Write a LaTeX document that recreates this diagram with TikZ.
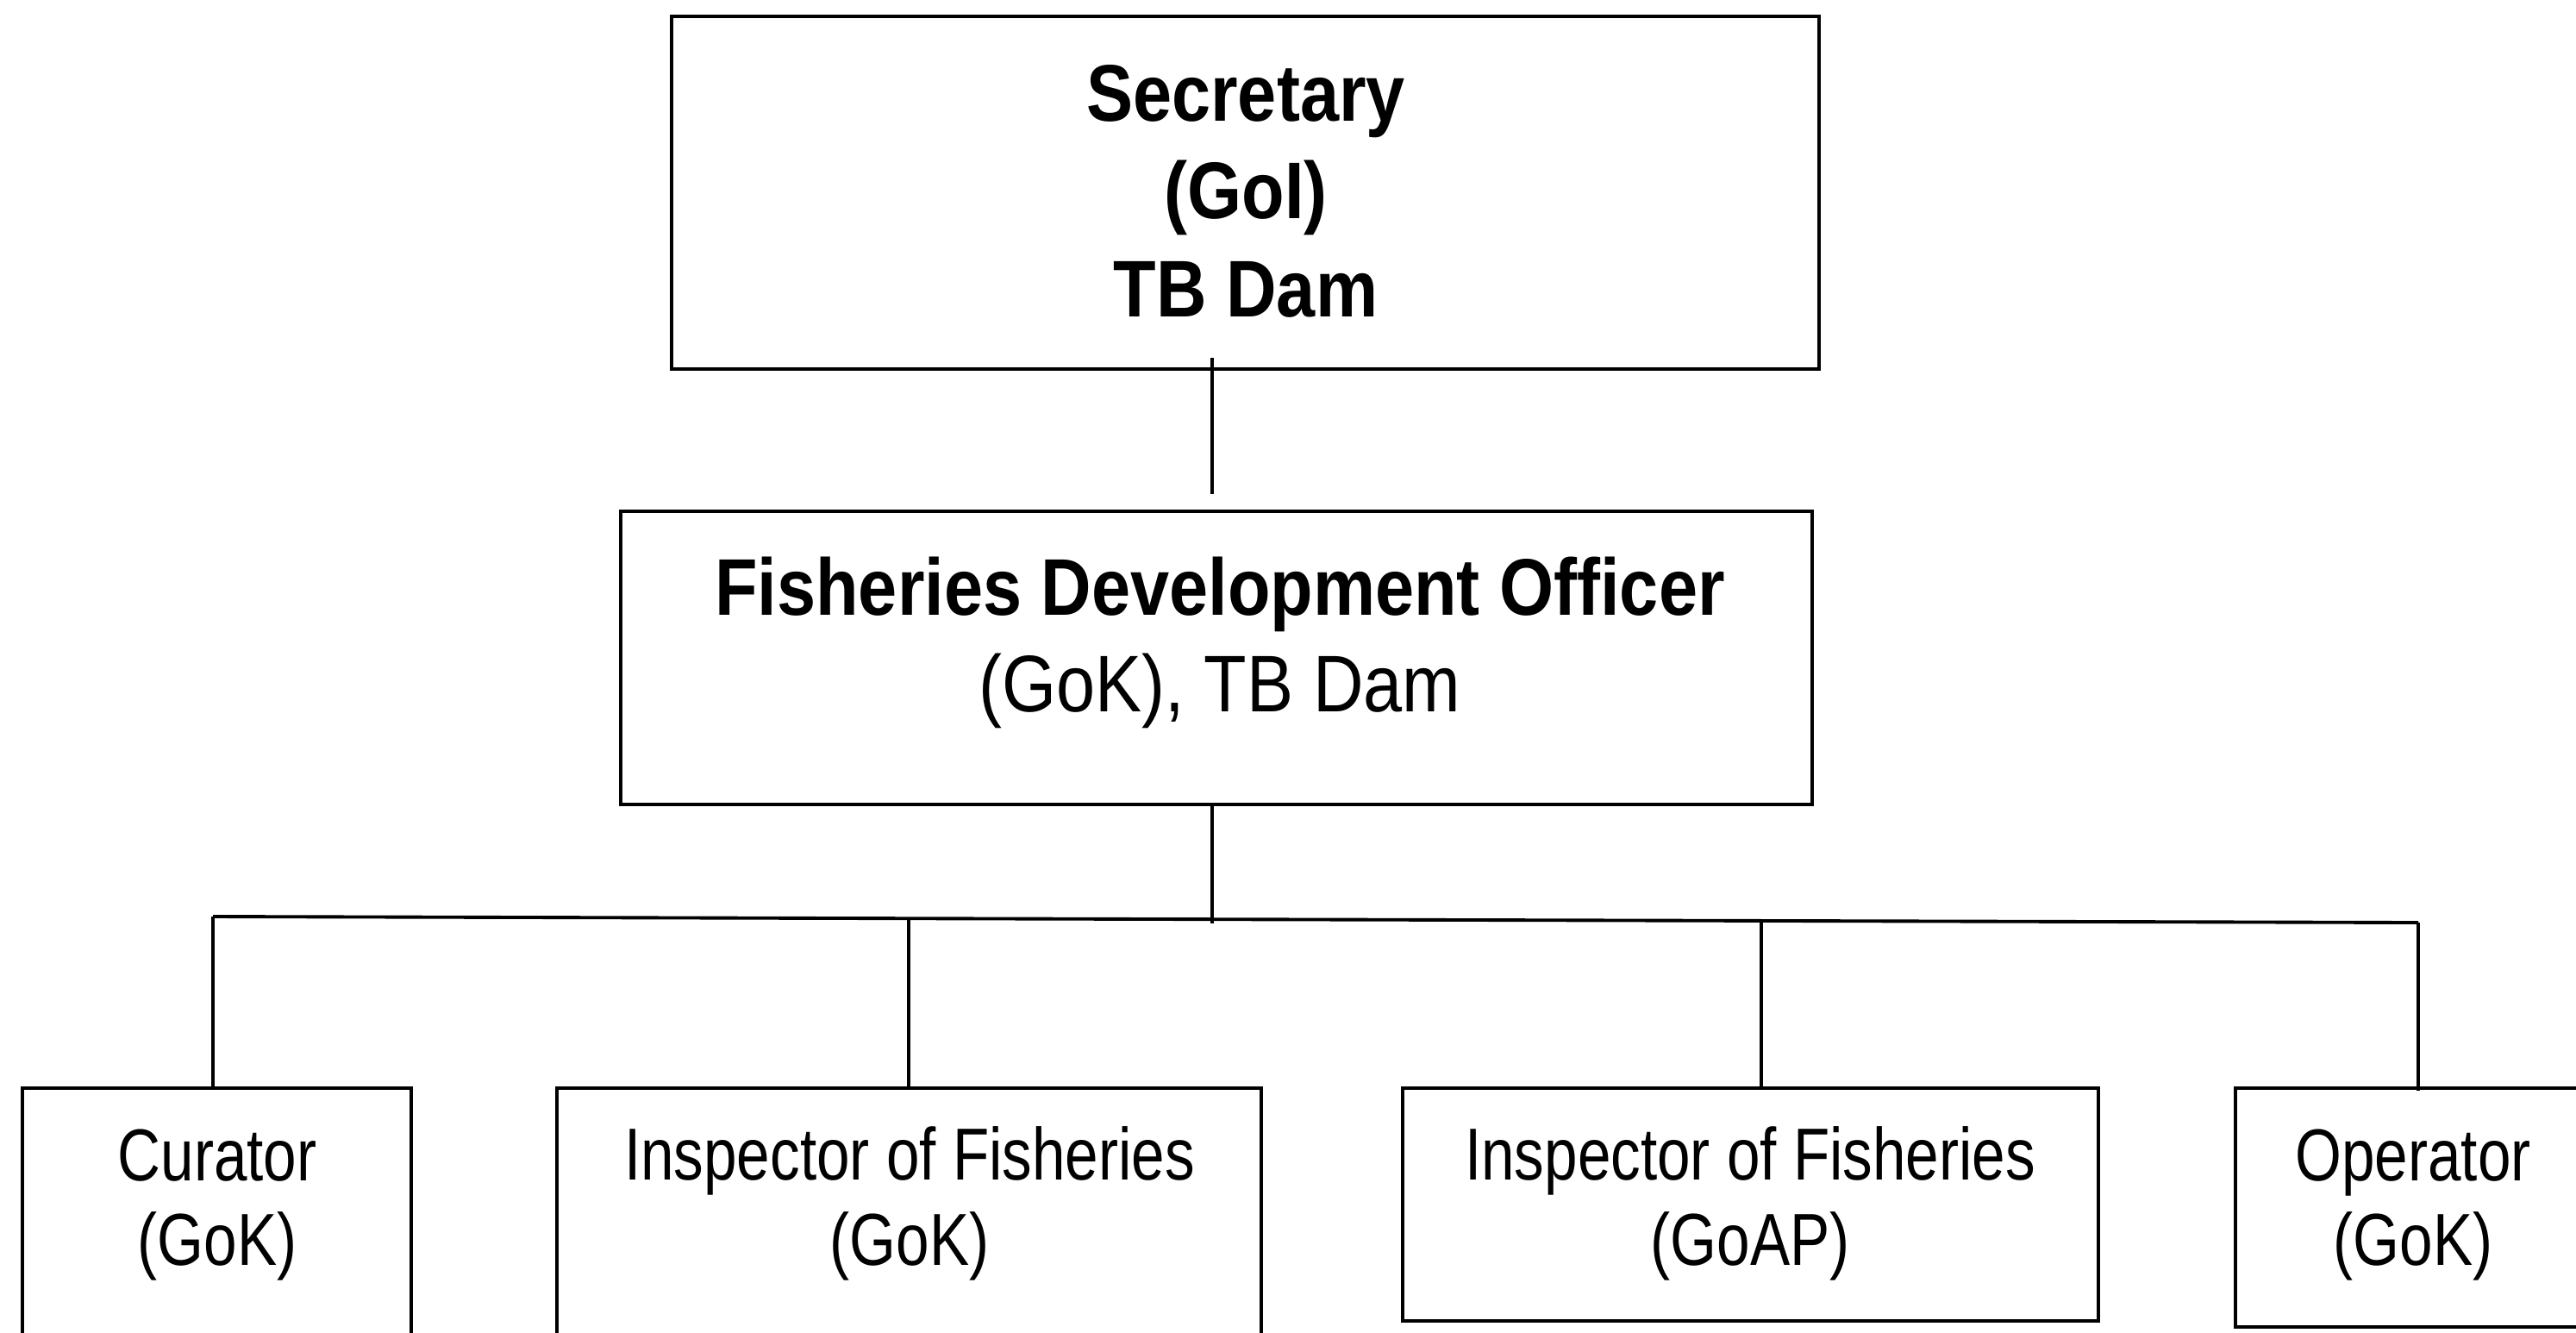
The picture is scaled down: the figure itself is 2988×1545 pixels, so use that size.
\documentclass[tikz,border=0pt]{standalone}
\usepackage{fontspec}
\setmainfont{Liberation Sans}
\usepackage{graphicx}
\newcommand\txtb[1]{\scalebox{0.87}[1]{\bfseries #1}}
\newcommand\txtm[1]{\scalebox{0.87}[1]{#1}}
\newcommand\txtr[1]{\scalebox{0.81}[1]{#1}}
\begin{document}
\begin{tikzpicture}[x=0.01cm, y=-0.01cm,
  box/.style={draw, line width=1.1pt, rectangle, inner sep=0pt},
  conn/.style={draw, line width=1.1pt},
  tt/.style={anchor=base, inner sep=0pt, font=\fontsize{26.5}{30}\selectfont},
  tn/.style={anchor=base, inner sep=0pt, font=\fontsize{24.3}{28}\selectfont}]
\useasboundingbox[fill=white] (0,0) rectangle (2988,1545);

% boxes
\node[box, minimum width=13.31cm, minimum height=4.09cm] (sec) at (1444.5,223.5) {};
\node[box, minimum width=13.82cm, minimum height=3.40cm] (fdo) at (1411,763) {};
\node[box, minimum width=4.51cm, minimum height=3.38cm] (cur) at (251.5,1431) {};
\node[box, minimum width=8.17cm, minimum height=3.38cm] (insk) at (1054.5,1431) {};
\node[box, minimum width=8.07cm, minimum height=2.70cm] (insap) at (2030.5,1397) {};
\node[box, minimum width=4.24cm, minimum height=2.77cm] (op) at (2805,1400.5) {};

% texts
\node[tt] (sec1) at (1445,140) {\txtb{Secretary}};
\node[tt] (sec2) at (1445,253) {\txtb{(GoI)}};
\node[tt] (sec3) at (1445,367) {\txtb{TB Dam}};
\node[tt] (fdo1) at (1415,713) {\txtb{Fisheries Development Officer}};
\node[tt] (fdo2) at (1415,825) {\txtm{(GoK), TB Dam}};
\node[tn] (cur1) at (252,1369) {\txtr{Curator}};
\node[tn] (cur2) at (252,1467) {\txtr{(GoK)}};
\node[tn] (insk1) at (1055,1368) {\txtr{Inspector of Fisheries}};
\node[tn] (insk2) at (1055,1467) {\txtr{(GoK)}};
\node[tn] (insap1) at (2030,1368) {\txtr{Inspector of Fisheries}};
\node[tn] (insap2) at (2030,1467) {\txtr{(GoAP)}};
\node[tn] (op1) at (2799,1369) {\txtr{Operator}};
\node[tn] (op2) at (2799,1467) {\txtr{(GoK)}};

% connectors
\coordinate (trunk) at (1406,1071);
\coordinate (bL) at (247,1063);
\coordinate (bR) at (2805,1070);
\coordinate (b2) at (1054,1064);
\coordinate (b3) at (2043,1068);
\draw[conn] ([yshift=0.15cm]sec.south -| trunk) -- ([yshift=0.18cm]fdo.north -| trunk);
\draw[conn] (fdo.south -| trunk) -- (trunk);
\draw[conn] (bL) -- (bR);
\draw[conn] (bL) -- (bL |- cur.north);
\draw[conn] (b2) -- (b2 |- insk.north);
\draw[conn] (b3) -- (b3 |- insap.north);
\draw[conn] (bR) -- ([yshift=-0.05cm]bR |- op.north);
\end{tikzpicture}
\end{document}
